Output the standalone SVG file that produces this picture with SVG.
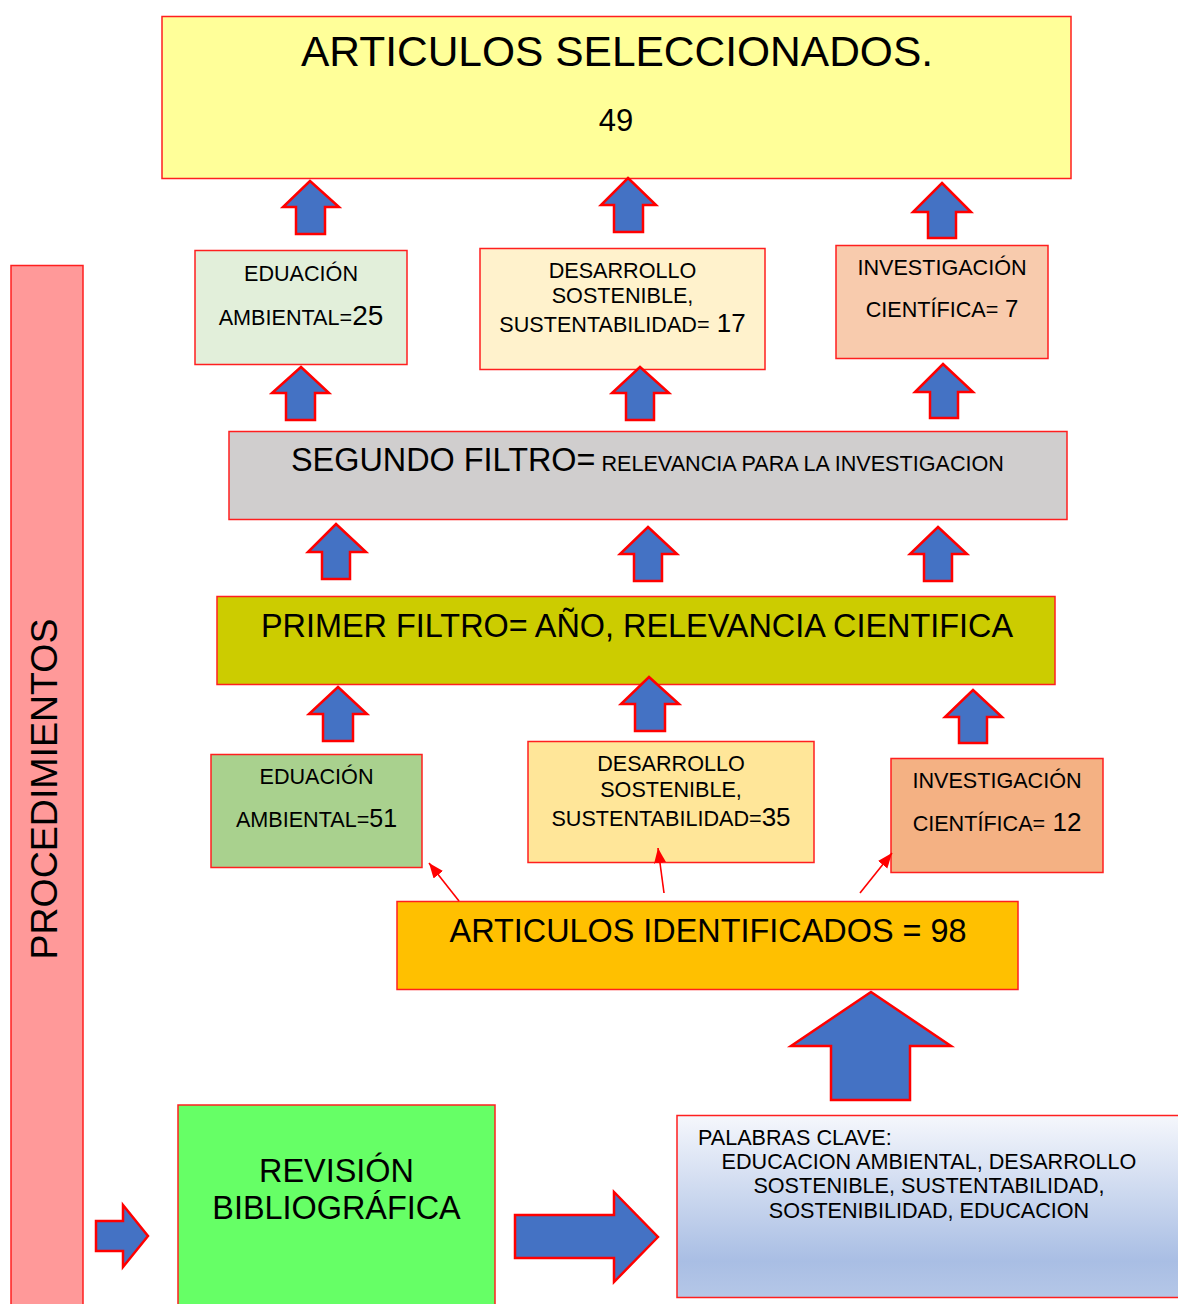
<svg xmlns="http://www.w3.org/2000/svg" width="1178" height="1304" viewBox="0 0 1178 1304">
<style>
text{font-family:"Liberation Sans",Arial,sans-serif;fill:#000}
.box{stroke:#FF1F1F;stroke-width:1.5}
.arr{fill:#4472C4;stroke:#FF0000;stroke-width:2.5;stroke-linejoin:miter}
.con{stroke:#FF0000;stroke-width:1.6;fill:none;marker-end:url(#ah)}
.s{font-size:21.6px}
.c{text-anchor:middle}
.b{font-size:32.4px}
</style>
<defs>
<marker id="ah" markerUnits="userSpaceOnUse" markerWidth="16" markerHeight="13" refX="15" refY="6" orient="auto">
<path d="M0,0 L15,6 L0,12 Z" fill="#FF0000"/>
</marker>
<linearGradient id="pg" x1="0" y1="0" x2="0" y2="1">
<stop offset="0" stop-color="#F5F7FC"/>
<stop offset="0.8" stop-color="#A9BEE4"/>
<stop offset="1" stop-color="#B5C7E7"/>
</linearGradient>
</defs>

<g id="procedimientos">
<rect class="box" x="11" y="265.5" width="72" height="1050" fill="#FF9999"/>
<text x="57" y="789" font-size="37.5" text-anchor="middle" transform="rotate(-90 57 789)">PROCEDIMIENTOS</text>
</g>

<g id="seleccionados">
<rect class="box" x="162" y="16.5" width="909" height="162" fill="#FFFF99"/>
<text x="617" y="66" font-size="42.5" class="c">ARTICULOS SELECCIONADOS.</text>
<text x="616" y="131" font-size="31" class="c">49</text>
</g>

<g id="edu1">
<rect class="box" x="195" y="250.5" width="212" height="114" fill="#E2EFDA"/>
<text x="301" y="281" class="s c">EDUACIÓN</text>
<text x="301" y="325" class="c"><tspan class="s">AMBIENTAL=</tspan><tspan font-size="28">25</tspan></text>
</g>

<g id="des1">
<rect class="box" x="480" y="248.5" width="285" height="121" fill="#FFF2CC"/>
<text x="622.5" y="278" class="s c">DESARROLLO</text>
<text x="622.5" y="303" class="s c">SOSTENIBLE,</text>
<text x="622.5" y="332" class="c"><tspan class="s">SUSTENTABILIDAD=</tspan><tspan font-size="26"> 17</tspan></text>
</g>

<g id="inv1">
<rect class="box" x="836" y="245.5" width="212" height="113" fill="#F8CBAD"/>
<text x="942" y="275" class="s c">INVESTIGACIÓN</text>
<text x="942" y="317" class="c"><tspan class="s">CIENTÍFICA=</tspan><tspan font-size="24"> 7</tspan></text>
</g>

<g id="segundo">
<rect class="box" x="229" y="431.5" width="838" height="88" fill="#D0CECE"/>
<text x="291" y="471"><tspan class="b">SEGUNDO FILTRO=</tspan><tspan class="s"> RELEVANCIA PARA LA INVESTIGACION</tspan></text>
</g>

<g id="primer">
<rect class="box" x="217" y="596.5" width="838" height="88" fill="#CCCC00"/>
<text x="637" y="637" class="b c">PRIMER FILTRO= AÑO, RELEVANCIA CIENTIFICA</text>
</g>

<g id="edu2">
<rect class="box" x="211" y="754.5" width="211" height="113" fill="#A9D18E"/>
<text x="316.5" y="784" class="s c">EDUACIÓN</text>
<text x="316.5" y="827" class="c"><tspan class="s">AMBIENTAL=</tspan><tspan font-size="25">51</tspan></text>
</g>

<g id="des2">
<rect class="box" x="528" y="741.5" width="286" height="121" fill="#FFE699"/>
<text x="671" y="771" class="s c">DESARROLLO</text>
<text x="671" y="797" class="s c">SOSTENIBLE,</text>
<text x="671" y="826" class="c"><tspan class="s">SUSTENTABILIDAD=</tspan><tspan font-size="26">35</tspan></text>
</g>

<g id="inv2">
<rect class="box" x="891" y="758.5" width="212" height="114" fill="#F4B183"/>
<text x="997" y="788" class="s c">INVESTIGACIÓN</text>
<text x="997" y="831" class="c"><tspan class="s">CIENTÍFICA=</tspan><tspan font-size="26"> 12</tspan></text>
</g>

<g id="identificados">
<rect class="box" x="397" y="901.5" width="621" height="88" fill="#FFC000"/>
<text x="708" y="942" class="b c">ARTICULOS IDENTIFICADOS = 98</text>
</g>

<g id="revision">
<rect class="box" x="178" y="1105" width="317" height="220" fill="#66FF66"/>
<text x="336.5" y="1182" class="b c">REVISIÓN</text>
<text x="336.5" y="1219" class="b c">BIBLIOGRÁFICA</text>
</g>

<g id="palabras">
<rect class="box" x="677" y="1115.5" width="520" height="182" fill="url(#pg)"/>
<text x="698" y="1145" class="s">PALABRAS CLAVE:</text>
<text x="929" y="1169" class="s c">EDUCACION AMBIENTAL, DESARROLLO</text>
<text x="929" y="1193" class="s c">SOSTENIBLE, SUSTENTABILIDAD,</text>
<text x="929" y="1218" class="s c">SOSTENIBILIDAD, EDUCACION</text>
</g>

<g id="connectors">
<path class="arr" d="M310,181 L339,207 L325,207 L325,234 L296,234 L296,207 L283,207 Z"/>
<path class="arr" d="M628,178 L656,205 L643,205 L643,232 L614,232 L614,205 L601,205 Z"/>
<path class="arr" d="M942,183 L971,212 L956,212 L956,238 L928,238 L928,212 L913,212 Z"/>
<path class="arr" d="M301,367 L329,393 L315,393 L315,420 L286,420 L286,393 L272,393 Z"/>
<path class="arr" d="M640,367 L669,393 L654,393 L654,420 L626,420 L626,393 L612,393 Z"/>
<path class="arr" d="M943,364 L973,392 L958,392 L958,418 L930,418 L930,392 L915,392 Z"/>
<path class="arr" d="M336,524 L366,552 L350,552 L350,579 L322,579 L322,552 L308,552 Z"/>
<path class="arr" d="M648,527 L677,554 L662,554 L662,581 L634,581 L634,554 L620,554 Z"/>
<path class="arr" d="M938,527 L967,554 L952,554 L952,581 L924,581 L924,554 L910,554 Z"/>
<path class="arr" d="M338,687 L367,714 L353,714 L353,741 L323,741 L323,714 L309,714 Z"/>
<path class="arr" d="M649,677 L679,704 L665,704 L665,731 L635,731 L635,704 L621,704 Z"/>
<path class="arr" d="M973,690 L1002,717 L987,717 L987,743 L959,743 L959,717 L945,717 Z"/>
<path class="arr" d="M871,992 L951,1046 L910,1046 L910,1100 L831,1100 L831,1046 L791,1046 Z"/>
<path class="arr" d="M148,1236 L123,1267 L123,1251 L96,1251 L96,1221 L123,1221 L123,1205 Z"/>
<path class="arr" d="M658,1237 L614,1282 L614,1258 L515,1258 L515,1215 L614,1215 L614,1192 Z"/>
<line class="con" x1="459" y1="901" x2="429" y2="863"/>
<line class="con" x1="664" y1="893" x2="658" y2="848"/>
<line class="con" x1="860" y1="893" x2="892" y2="853"/>
</g>
</svg>
